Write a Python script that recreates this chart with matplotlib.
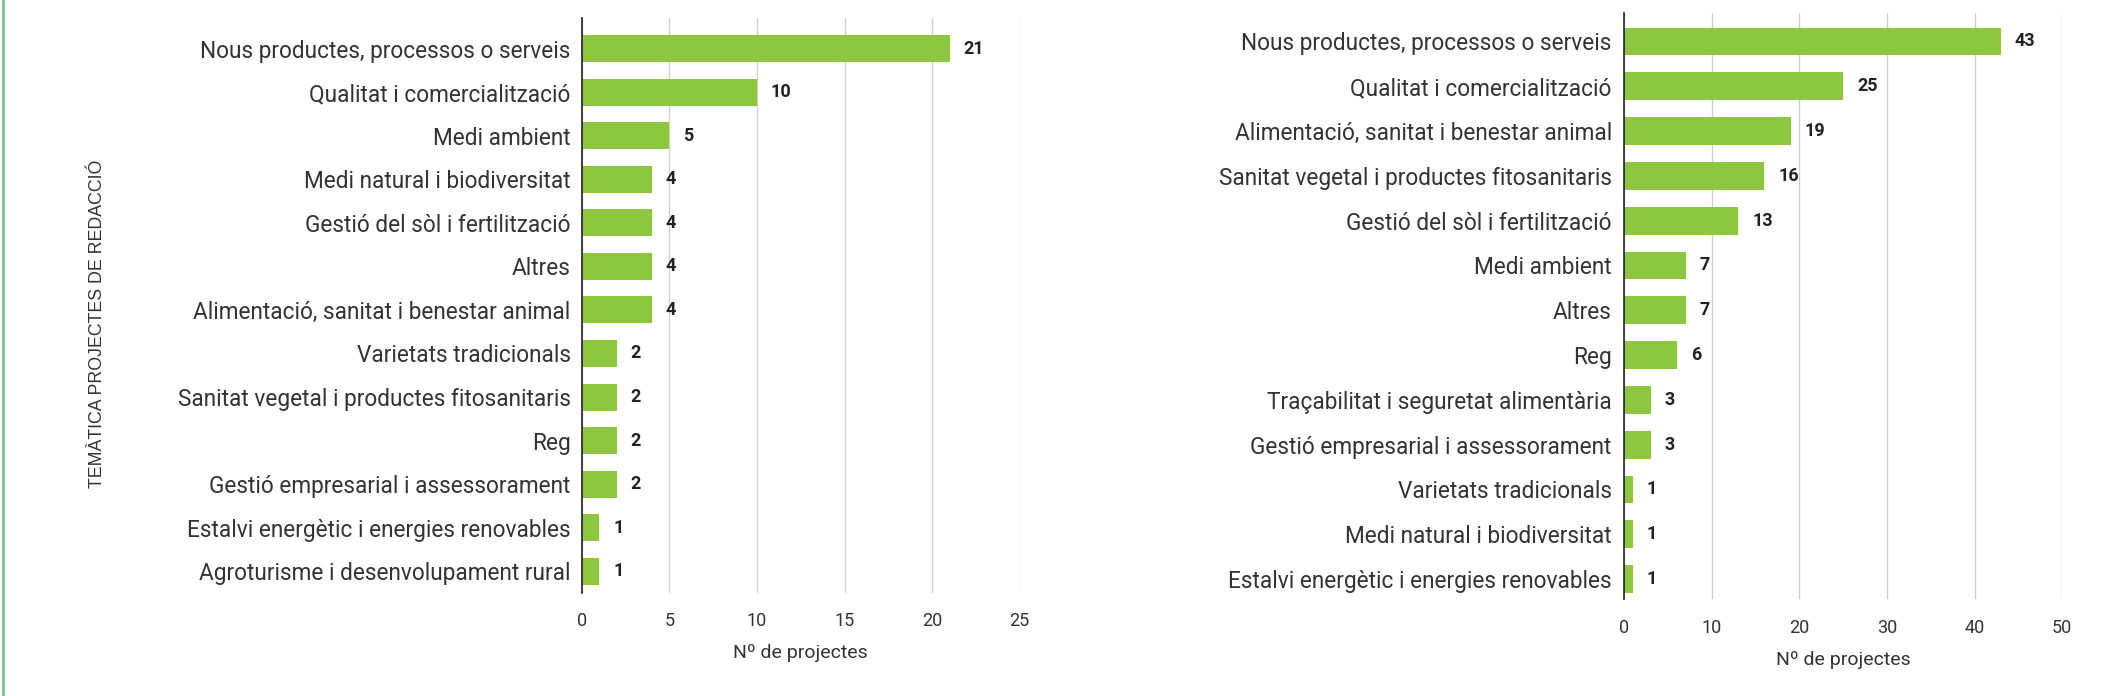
import matplotlib
matplotlib.use("Agg")
import matplotlib.pyplot as plt
from matplotlib.lines import Line2D

left_cats = ["Nous productes, processos o serveis", "Qualitat i comercialització", "Medi ambient",
             "Medi natural i biodiversitat", "Gestió del sòl i fertilització", "Altres",
             "Alimentació, sanitat i benestar animal", "Varietats tradicionals",
             "Sanitat vegetal i productes fitosanitaris", "Reg", "Gestió empresarial i assessorament",
             "Estalvi energètic i energies renovables", "Agroturisme i desenvolupament rural"]
left_vals = [21, 10, 5, 4, 4, 4, 4, 2, 2, 2, 2, 1, 1]
left_ticks = [0, 5, 10, 15, 20, 25]

right_cats = ["Nous productes, processos o serveis", "Qualitat i comercialització",
              "Alimentació, sanitat i benestar animal", "Sanitat vegetal i productes fitosanitaris",
              "Gestió del sòl i fertilització", "Medi ambient", "Altres", "Reg",
              "Traçabilitat i seguretat alimentària", "Gestió empresarial i assessorament",
              "Varietats tradicionals", "Medi natural i biodiversitat",
              "Estalvi energètic i energies renovables"]
right_vals = [43, 25, 19, 16, 13, 7, 7, 6, 3, 3, 1, 1, 1]
right_ticks = [0, 10, 20, 30, 40, 50]

ylabel_text = "TEMÀTICA PROJECTES DE REDACCIÓ"
xlabel_text = "Nº de projectes"

BAR = "#8dc63f"
TXT = "#333333"
GRID = "#d0d0d0"

plt.rcParams['font.family'] = ['Roboto', 'DejaVu Sans']

fig = plt.figure(figsize=(21.12, 6.96), dpi=100)
fig.patch.set_facecolor("white")


def draw(ax, cats, vals, ticks, ylim, lab_pad):
    y = list(range(len(cats)))
    ax.barh(y, vals, height=0.62, color=BAR, zorder=3)
    ax.set_yticks(y)
    ax.set_yticklabels(cats, fontsize=16.3, color=TXT)
    ax.set_ylim(*ylim)
    ax.set_xlim(ticks[0], ticks[-1])
    ax.set_xticks(ticks)
    ax.set_xticklabels([str(t) for t in ticks], fontsize=13, color=TXT)
    ax.tick_params(axis='y', length=0, pad=lab_pad)
    ax.tick_params(axis='x', length=0, pad=14)
    for s in ['top', 'right', 'bottom']:
        ax.spines[s].set_visible(False)
    ax.spines['left'].set_color('#222222')
    ax.spines['left'].set_linewidth(1.2)
    ax.spines['left'].set_zorder(4)
    ax.xaxis.grid(True, color=GRID, linewidth=1.0, zorder=0)
    ax.set_axisbelow(True)
    for yi, v in zip(y, vals):
        ax.annotate(str(v), xy=(v, yi), xytext=(10, 0), textcoords='offset points',
                    ha='left', va='center', fontsize=13, fontweight='bold', color='#222222')
    ax.set_xlabel(xlabel_text, fontsize=14, color=TXT, labelpad=10)


axL = fig.add_axes([0.2755, 0.148, 0.2073, 0.826])
draw(axL, left_cats, left_vals, left_ticks, (12.5, -0.7), 8)

axR = fig.add_axes([0.7691, 0.139, 0.2073, 0.842])
draw(axR, right_cats, right_vals, right_ticks, (12.45, -0.63), 9)

fig.text(0.046, 0.535, ylabel_text, rotation=90, ha='center', va='center',
         fontsize=12.8, color=TXT, family=['Liberation Sans', 'DejaVu Sans'])

fig.add_artist(Line2D([0.0012, 0.0012], [0, 1], transform=fig.transFigure,
                      color="#72c992", linewidth=2))

fig.savefig("out.png", dpi=100, facecolor="white")
